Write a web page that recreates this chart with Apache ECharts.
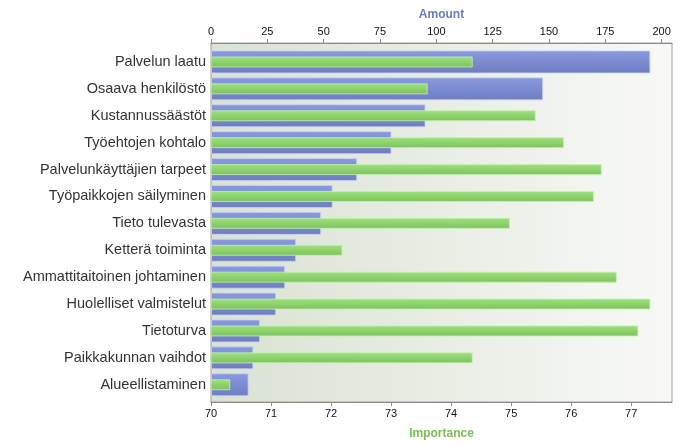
<!DOCTYPE html>
<html>
<head>
<meta charset="utf-8">
<script src="https://cdn.jsdelivr.net/npm/echarts@6/dist/echarts.min.js"></script>
<style>
html,body{margin:0;padding:0;background:#fff;}
#chart{width:692px;height:446px;}
</style>
</head>
<body>
<div id="chart"></div>
<script>
var categories = ["Palvelun laatu","Osaava henkilöstö","Kustannussäästöt","Työehtojen kohtalo","Palvelunkäyttäjien tarpeet","Työpaikkojen säilyminen","Tieto tulevasta","Ketterä toiminta","Ammattitaitoinen johtaminen","Huolelliset valmistelut","Tietoturva","Paikkakunnan vaihdot","Alueellistaminen"];
var amount = [195, 147.4, 95.2, 80.1, 64.9, 54, 48.9, 37.8, 32.9, 28.9, 21.8, 18.8, 16.7];
var importance = [74.36, 73.61, 75.41, 75.88, 76.51, 76.38, 74.98, 72.19, 76.76, 77.32, 77.12, 74.36, 70.32];
var amountTicks = {min: 0, max: 204.6, interval: 25};
var importanceTicks = {min: 70, max: 77.68, interval: 1};

var chart = echarts.init(document.getElementById('chart'), null, {renderer: 'canvas'});
var font = "'Liberation Sans', Arial, sans-serif";
function visibleAxis() {
  return {
    axisLine: {show: true, onZero: false, lineStyle: {color: '#8c8c8c', width: 1}},
    axisTick: {show: true, length: 4, lineStyle: {color: '#8c8c8c'}},
    axisLabel: {color: '#111', fontSize: 11, fontFamily: font, margin: 6, showMaxLabel: false},
    splitLine: {show: false}
  };
}
function hiddenAxis() {
  return {
    show: false,
    axisLine: {show: false, onZero: false},
    axisTick: {show: false},
    axisLabel: {show: false},
    splitLine: {show: false},
    minorTick: {show: false},
    minorSplitLine: {show: false}
  };
}
chart.setOption({
  animation: false,
  grid: [{
    left: 211, right: 20, top: 43, bottom: 44,
    show: true,
    borderColor: '#a0a0a0', borderWidth: 1,
    backgroundColor: new echarts.graphic.LinearGradient(0, 0, 1, 0, [
      {offset: 0, color: '#dae2d2'},
      {offset: 1, color: '#f8f9f7'}
    ])
  }, {
    left: 211, right: 20, top: 48.5, bottom: 47.8
  }],
  xAxis: [Object.assign({
    type: 'value', position: 'top', gridIndex: 0,
    min: amountTicks.min, max: amountTicks.max, interval: amountTicks.interval,
    name: 'Amount', nameLocation: 'middle', nameGap: 22,
    nameTextStyle: {color: '#6a7ac4', fontWeight: 'bold', fontSize: 12, fontFamily: font}
  }, visibleAxis()), Object.assign({
    type: 'value', position: 'bottom', gridIndex: 0,
    min: importanceTicks.min, max: importanceTicks.max, interval: importanceTicks.interval,
    name: 'Importance', nameLocation: 'middle', nameGap: 26,
    nameTextStyle: {color: '#7cbf55', fontWeight: 'bold', fontSize: 12, fontFamily: font}
  }, visibleAxis()), Object.assign({
    type: 'value', gridIndex: 1, position: 'top',
    min: amountTicks.min, max: amountTicks.max
  }, hiddenAxis()), Object.assign({
    type: 'value', gridIndex: 1, position: 'bottom',
    min: importanceTicks.min, max: importanceTicks.max
  }, hiddenAxis())],
  yAxis: [Object.assign({
    type: 'value', gridIndex: 0, min: 0, max: 1
  }, hiddenAxis()), {
    type: 'category', gridIndex: 1, data: categories, inverse: true,
    axisLine: {show: false},
    axisTick: {show: false},
    splitLine: {show: false},
    axisLabel: {color: '#333', fontSize: 14.5, fontFamily: font, margin: 5}
  }, Object.assign({
    type: 'category', gridIndex: 1, data: categories, inverse: true
  }, hiddenAxis())],
  series: [{
    name: 'Amount', type: 'bar', xAxisIndex: 2, yAxisIndex: 1,
    data: amount, barWidth: 23,
    itemStyle: {
      color: new echarts.graphic.LinearGradient(0, 0, 0, 1, [
        {offset: 0, color: '#8a9ae2'},
        {offset: 1, color: '#6e7dbf'}
      ]),
      borderColor: 'rgba(200,210,245,0.8)', borderWidth: 1
    }
  }, {
    name: 'Importance', type: 'bar', xAxisIndex: 3, yAxisIndex: 2,
    data: importance, barWidth: 11,
    itemStyle: {
      color: new echarts.graphic.LinearGradient(0, 0, 0, 1, [
        {offset: 0, color: '#9de37c'},
        {offset: 1, color: '#7dc15e'}
      ]),
      borderColor: 'rgba(200,240,180,0.8)', borderWidth: 1
    }
  }]
});
</script>
</body>
</html>
